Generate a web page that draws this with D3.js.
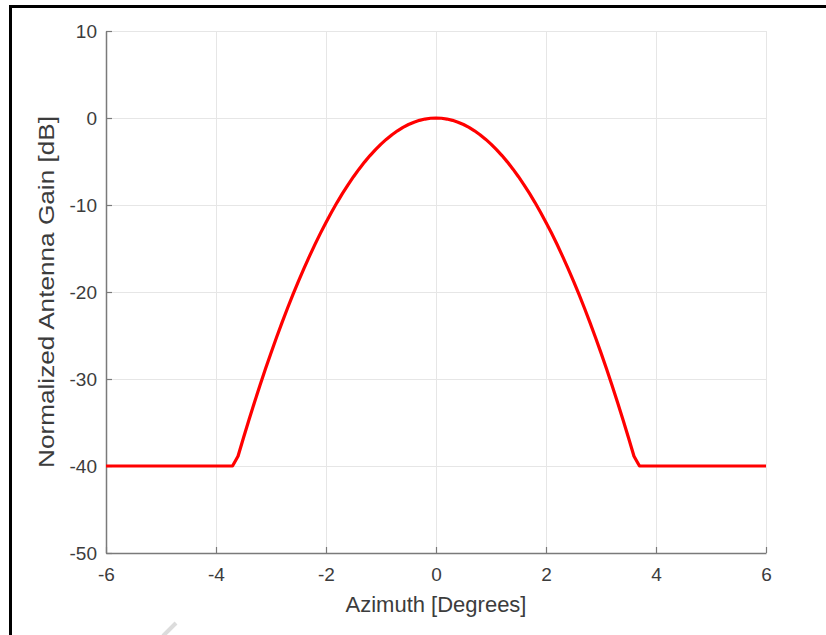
<!DOCTYPE html>
<html>
<head>
<meta charset="utf-8">
<script src="https://cdn.jsdelivr.net/npm/d3@7"></script>
<style>
  html, body { margin: 0; padding: 0; background: #fff; }
  svg { display: block; }
</style>
</head>
<body>
<svg id="chart" width="826" height="635"></svg>
<script>
// ---- data ----
const azimuth = [
  -6, -3.7, -3.6, -3.5, -3.4, -3.3, -3.2, -3.1, -3.0, -2.9, -2.8, -2.7, -2.6, -2.5, -2.4, -2.3, -2.2, -2.1, -2.0,
  -1.9, -1.8, -1.7, -1.6, -1.5, -1.4, -1.3, -1.2, -1.1, -1.0, -0.9, -0.8, -0.7, -0.6, -0.5, -0.4, -0.3, -0.2, -0.1,
  0,
  0.1, 0.2, 0.3, 0.4, 0.5, 0.6, 0.7, 0.8, 0.9, 1.0, 1.1, 1.2, 1.3, 1.4, 1.5, 1.6, 1.7, 1.8, 1.9,
  2.0, 2.1, 2.2, 2.3, 2.4, 2.5, 2.6, 2.7, 2.8, 2.9, 3.0, 3.1, 3.2, 3.3, 3.4, 3.5, 3.6, 3.7, 6
];
const gainDb = [
  -40, -40, -38.88, -36.75, -34.68, -32.67, -30.72, -28.83, -27.00, -25.23, -23.52, -21.87, -20.28, -18.75, -17.28, -15.87, -14.52, -13.23, -12.00,
  -10.83, -9.72, -8.67, -7.68, -6.75, -5.88, -5.07, -4.32, -3.63, -3.00, -2.43, -1.92, -1.47, -1.08, -0.75, -0.48, -0.27, -0.12, -0.03,
  0,
  -0.03, -0.12, -0.27, -0.48, -0.75, -1.08, -1.47, -1.92, -2.43, -3.00, -3.63, -4.32, -5.07, -5.88, -6.75, -7.68, -8.67, -9.72, -10.83,
  -12.00, -13.23, -14.52, -15.87, -17.28, -18.75, -20.28, -21.87, -23.52, -25.23, -27.00, -28.83, -30.72, -32.67, -34.68, -36.75, -38.88, -40, -40
];
const xTicks = [-6, -4, -2, 0, 2, 4, 6];
const yTicks = [-50, -40, -30, -20, -10, 0, 10];
const xDomain = [-6, 6];
const yDomain = [-50, 10];
const xLabel = "Azimuth [Degrees]";
const yLabel = "Normalized Antenna Gain [dB]";

// ---- layout ----
(function () {
const svg = d3.select("#chart");
const pLeft = 106, pRight = 766, pTop = 31, pBottom = 553;
const fontFamily = "'Liberation Sans', Arial, Helvetica, sans-serif";
const textColor = "#3c3c3c";
const axisColor = "#7a7a7a";
const gridColor = "#e6e6e6";

const x = d3.scaleLinear().domain(xDomain).range([pLeft, pRight]);
const y = d3.scaleLinear().domain(yDomain).range([pBottom, pTop]);

// outer frame (only top/left visible in the reference)
svg.append("rect")
  .attr("x", 10.5).attr("y", 6.5)
  .attr("width", 900).attr("height", 900)
  .attr("fill", "none").attr("stroke", "#000").attr("stroke-width", 3);

// faint watermark fragment
svg.append("line")
  .attr("x1", 163).attr("y1", 636).attr("x2", 176).attr("y2", 623)
  .attr("stroke", "#dcdcdc").attr("stroke-width", 4);

// grid
const grid = svg.append("g");
grid.selectAll("line.gx").data(xTicks).join("line")
  .attr("class", "gx")
  .attr("x1", d => Math.round(x(d)) + 0.5).attr("x2", d => Math.round(x(d)) + 0.5)
  .attr("y1", pTop).attr("y2", pBottom)
  .attr("stroke", gridColor).attr("stroke-width", 1);
grid.selectAll("line.gy").data(yTicks).join("line")
  .attr("class", "gy")
  .attr("y1", d => Math.round(y(d)) + 0.5).attr("y2", d => Math.round(y(d)) + 0.5)
  .attr("x1", pLeft).attr("x2", pRight)
  .attr("stroke", gridColor).attr("stroke-width", 1);

// axes
const fmt = d => String(d);
const xAxis = d3.axisBottom(x).tickValues(xTicks).tickSizeInner(-6).tickSizeOuter(0).tickPadding(15)
  .tickFormat(fmt);
const yAxis = d3.axisLeft(y).tickValues(yTicks).tickSizeInner(-6).tickSizeOuter(0).tickPadding(9)
  .tickFormat(fmt);

const gx = svg.append("g").attr("transform", `translate(0,${pBottom})`).call(xAxis);
const gy = svg.append("g").attr("transform", `translate(${pLeft},0)`).call(yAxis);
[gx, gy].forEach(g => {
  g.select(".domain").attr("stroke", axisColor).attr("stroke-width", 1.5);
  g.selectAll(".tick line").attr("stroke", axisColor).attr("stroke-width", 1.2);
  g.selectAll(".tick text")
    .attr("fill", textColor)
    .style("font-family", fontFamily)
    .style("font-size", "19px");
});

// labels
svg.append("text")
  .attr("x", (pLeft + pRight) / 2).attr("y", 612)
  .attr("text-anchor", "middle")
  .attr("fill", textColor)
  .style("font-family", fontFamily).style("font-size", "22px")
  .text(xLabel);

svg.append("text")
  .attr("transform", `translate(54,${(pTop + pBottom) / 2}) rotate(-90)`)
  .attr("text-anchor", "middle")
  .attr("fill", textColor)
  .attr("textLength", 352)
  .attr("lengthAdjust", "spacingAndGlyphs")
  .style("font-family", fontFamily).style("font-size", "22px")
  .text(yLabel);

// curve
const points = azimuth.map((a, i) => [a, gainDb[i]]);
const line = d3.line().x(d => x(d[0])).y(d => y(d[1]));
svg.append("path")
  .datum(points)
  .attr("d", line)
  .attr("fill", "none")
  .attr("stroke", "#ff0000")
  .attr("stroke-width", 3.2)
  .attr("stroke-linejoin", "round");
})();
</script>
</body>
</html>
